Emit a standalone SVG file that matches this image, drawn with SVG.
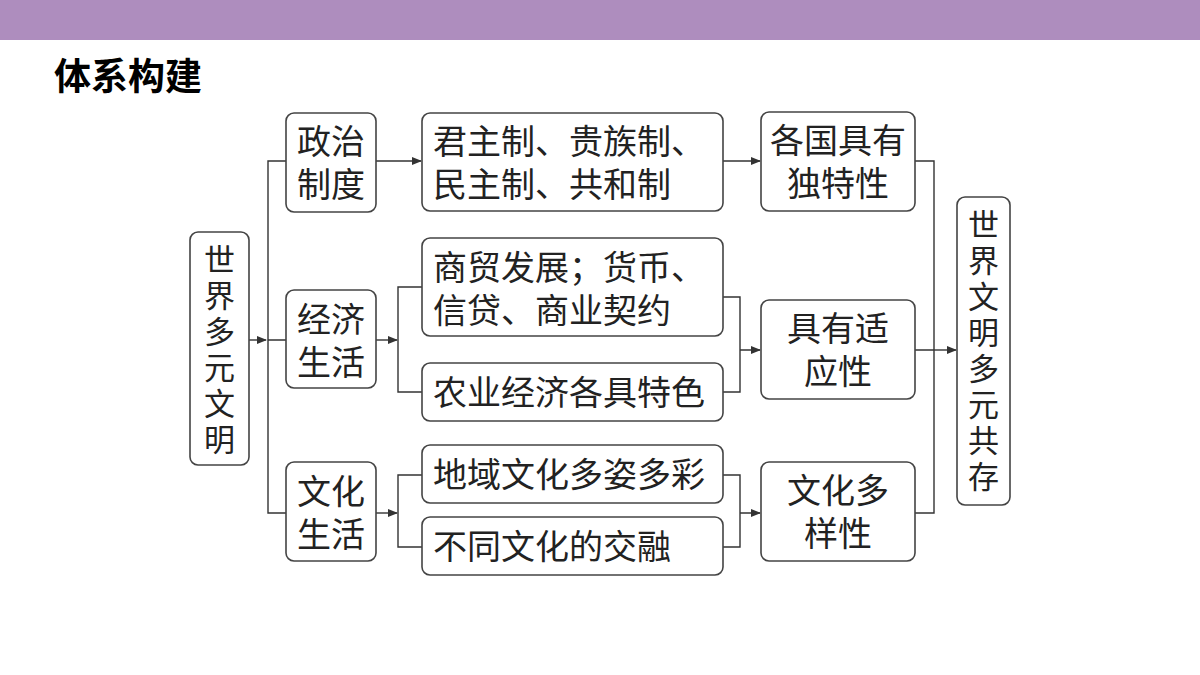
<svg xmlns="http://www.w3.org/2000/svg" width="1200" height="675" viewBox="0 0 1200 675">
<style>
.b{fill:#fff;stroke:#444;stroke-width:1.6}
.t{font-family:"Noto Sans CJK SC",sans-serif;font-size:34px;fill:#222}
.v{font-family:"Noto Sans CJK SC",sans-serif;font-size:31px;fill:#222;writing-mode:vertical-rl;letter-spacing:5px}
.l{fill:none;stroke:#333;stroke-width:1.4}
</style>
<defs><marker id="a" markerWidth="10" markerHeight="8" refX="9" refY="4" orient="auto" markerUnits="userSpaceOnUse"><path d="M0,0L10,4L0,8z" fill="#333"/></marker></defs>
<rect x="0" y="0" width="1200" height="40" fill="#AE8DBE"/>
<text x="54" y="90" style="font-family:'Noto Sans CJK SC',sans-serif;font-size:37px;font-weight:bold">体系构建</text>
<g id="connectors">
<path class="l" d="M249,340H266" marker-end="url(#a)"/>
<path class="l" d="M286,161H268V513H286M268,340H286"/>
<path class="l" d="M376,161H421" marker-end="url(#a)"/>
<path class="l" d="M376,340H397" marker-end="url(#a)"/>
<path class="l" d="M422,287H398V392H422"/>
<path class="l" d="M376,513H397" marker-end="url(#a)"/>
<path class="l" d="M422,475H398V547H422"/>
<path class="l" d="M723,161H760" marker-end="url(#a)"/>
<path class="l" d="M723,297H740V392H723M740,350H760" marker-end="url(#a)"/>
<path class="l" d="M723,475H740V547H723M740,513H760" marker-end="url(#a)"/>
<path class="l" d="M915,161H934V513H915M915,350H934"/>
<path class="l" d="M934,350H956" marker-end="url(#a)"/>
</g>
<g id="n1"><rect class="b" x="190" y="232" width="59" height="233" rx="8"/>
<text class="v" x="219.5" y="244">世界多元文明</text></g>
<g id="n2"><rect class="b" x="286" y="113" width="90" height="99" rx="8"/><text class="t" text-anchor="middle"><tspan x="331" y="154">政治</tspan><tspan x="331" y="197">制度</tspan></text></g>
<g id="n3"><rect class="b" x="286" y="290" width="90" height="98" rx="8"/><text class="t" text-anchor="middle"><tspan x="331" y="332">经济</tspan><tspan x="331" y="375">生活</tspan></text></g>
<g id="n4"><rect class="b" x="286" y="462" width="90" height="99" rx="8"/><text class="t" text-anchor="middle"><tspan x="331" y="504">文化</tspan><tspan x="331" y="547">生活</tspan></text></g>
<g id="n5"><rect class="b" x="422" y="113" width="301" height="98" rx="8"/><text class="t"><tspan x="433" y="154">君主制、贵族制、</tspan><tspan x="433" y="197">民主制、共和制</tspan></text></g>
<g id="n6"><rect class="b" x="422" y="238" width="301" height="98" rx="8"/><text class="t"><tspan x="433" y="280">商贸发展；货币、</tspan><tspan x="433" y="323">信贷、商业契约</tspan></text></g>
<g id="n7"><rect class="b" x="422" y="363" width="301" height="58" rx="8"/><text class="t" x="433" y="405">农业经济各具特色</text></g>
<g id="n8"><rect class="b" x="422" y="445" width="301" height="58" rx="8"/><text class="t" x="433" y="487">地域文化多姿多彩</text></g>
<g id="n9"><rect class="b" x="422" y="517" width="301" height="58" rx="8"/><text class="t" x="433" y="559">不同文化的交融</text></g>
<g id="n10"><rect class="b" x="761" y="112" width="154" height="99" rx="8"/><text class="t" text-anchor="middle"><tspan x="838" y="153">各国具有</tspan><tspan x="838" y="196">独特性</tspan></text></g>
<g id="n11"><rect class="b" x="761" y="300" width="154" height="99" rx="8"/><text class="t" text-anchor="middle"><tspan x="838" y="341">具有适</tspan><tspan x="838" y="384">应性</tspan></text></g>
<g id="n12"><rect class="b" x="761" y="462" width="154" height="99" rx="8"/><text class="t" text-anchor="middle"><tspan x="838" y="503">文化多</tspan><tspan x="838" y="546">样性</tspan></text></g>
<g id="n13"><rect class="b" x="957" y="197" width="53" height="308" rx="8"/>
<text class="v" x="983.5" y="209">世界文明多元共存</text></g>
</svg>
